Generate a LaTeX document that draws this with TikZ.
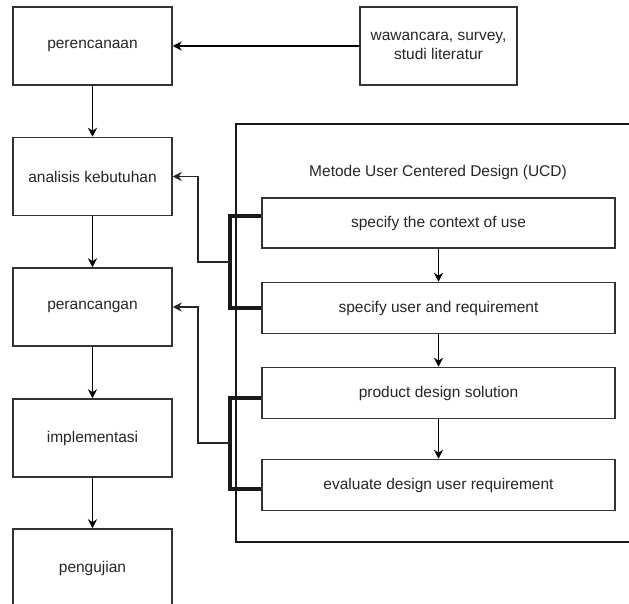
\documentclass[tikz,border=0pt]{standalone}
\usepackage{fontspec}
\setmainfont{Liberation Sans}
\usetikzlibrary{arrows.meta,calc}
\begin{document}
\begin{tikzpicture}[x=1pt,y=-1pt,
  box/.style={draw=black!80,line width=1.5pt,minimum width=159pt,minimum height=78pt,inner sep=0pt,align=center,font=\fontsize{15.5}{19}\selectfont,text=black!85},
  ubox/.style={box,minimum width=353pt,minimum height=51pt},
  lbl/.style={inner sep=0pt,font=\fontsize{15.5}{19}\selectfont,text=black!85},
  arr/.style={draw=black,line width=1.4pt,-{Stealth[length=9pt,width=9pt]}},
  bus/.style={draw=black!90,line width=3.4pt},
  thinln/.style={draw=black!85,line width=1.5pt,-{Stealth[length=9pt,width=9pt]}},
  ]
\clip (0,0) rectangle (629,604);
\fill[white] (0,0) rectangle (629,604);
% container
\node[draw=black!90,line width=1.5pt,minimum width=424pt,minimum height=418pt,inner sep=0pt] (ucd) at (448,333) {};
\node[lbl] (title) at (438,172) {Metode User Centered Design (UCD)};
% left column
\node[box] (p1) at (92.5,46) {perencanaan};
\node[box] (a2) at (92.5,176.5) {analisis kebutuhan};
\node[box] (p3) at (92.5,307) {perancangan};
\node[box] (i4) at (92.5,438) {implementasi};
\node[box] (g5) at (92.5,568) {pengujian};
\node[box,minimum width=157pt] (w) at (438.5,46) {wawancara, survey,\\studi literatur};
% UCD boxes
\node[ubox,minimum height=50pt] (u1) at (438.5,223) {specify the context of use};
\node[ubox] (u2) at (438.5,308) {specify user and requirement};
\node[ubox] (u3) at (438.5,393) {product design solution};
\node[ubox] (u4) at (438.5,485) {evaluate design user requirement};
% arrows
\draw[arr] (w) -- (p1);
\draw[arr] (p1) -- (a2);
\draw[arr] (a2) -- (p3);
\draw[arr] (p3) -- (i4);
\draw[arr] (i4) -- (g5);
\draw[arr] (u1) -- (u2);
\draw[arr] (u2) -- (u3);
\draw[arr] (u3) -- (u4);
% buses
\coordinate (b1) at (230,262);
\coordinate (b2) at (230,443);
\draw[bus] ([yshift=7pt]u1.west) -| (b1) |- (u2.west);
\draw[thinln] (b1) -- ++(-32,0) |- (a2.east);
\draw[bus] ([yshift=-5pt]u3.west) -| (b2) |- ([yshift=-4pt]u4.west);
\draw[thinln] (b2) -- ++(-32,0) |- (p3.east);
\end{tikzpicture}
\end{document}
